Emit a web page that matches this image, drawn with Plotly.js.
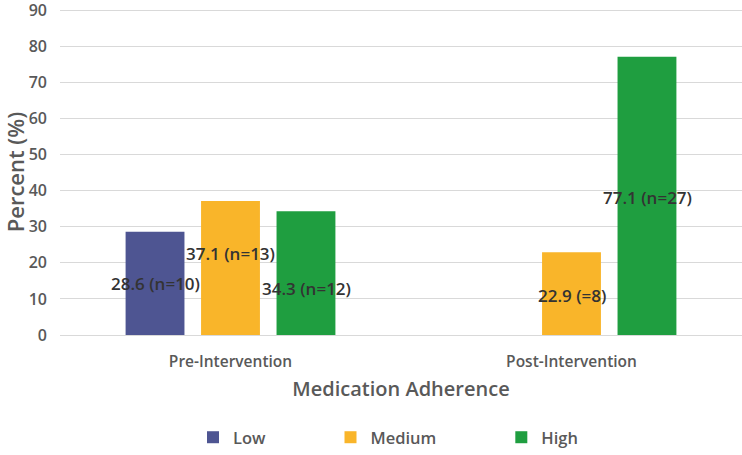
<!DOCTYPE html>
<html>
<head>
<meta charset="utf-8">
<script src="https://cdn.plot.ly/plotly-3.0.1.min.js"></script>
<style>html,body{margin:0;padding:0;background:#fff;}#chart{width:742px;height:455px;}</style>
</head>
<body>
<div id="chart"></div>
<script>
const categories = ["Pre-Intervention", "Post-Intervention"];
const seriesNames = ["Low", "Medium", "High"];
const lowValues = [28.6, null];
const mediumValues = [37.1, 22.9];
const highValues = [34.3, 77.1];
const lowLabels = ["28.6 (n=10)", ""];
const mediumLabels = ["37.1 (n=13)", "22.9 (=8)"];
const highLabels = ["34.3 (n=12)", "77.1 (n=27)"];
const yTicks = [0, 10, 20, 30, 40, 50, 60, 70, 80, 90];
const colors = ["#4E5592", "#F9B52A", "#1F9E40"];

const FONT = "Open Sans, Noto Sans, sans-serif";
const seriesVals = [lowValues, mediumValues, highValues];
const seriesLabels = [lowLabels, mediumLabels, highLabels];
const PAD = "\u00a0".repeat(14);

const traces = seriesNames.map((n, i) => ({
  type: "bar", name: n + (i < 2 ? PAD : ""), x: categories, y: seriesVals[i],
  marker: {color: colors[i]}, hoverinfo: "none"
}));

// label placement: centred on each bar, with small manual shifts as in the original
const barShift = [-75.5, 0, 75.5];
const labelYShift = [[0, 0], [15, -2], [-15, -2]];
const annotations = [];
seriesVals.forEach((vals, i) => {
  vals.forEach((v, j) => {
    if (v == null || !seriesLabels[i][j]) return;
    annotations.push({
      x: categories[j], y: v / 2, xref: "x", yref: "y",
      text: seriesLabels[i][j], showarrow: false,
      xshift: barShift[i], yshift: labelYShift[i][j],
      font: {family: FONT, size: 17, color: "#333333", weight: 600}
    });
  });
});

const layout = {
  width: 742, height: 455,
  margin: {l: 60, r: 0, t: 9, b: 120},
  paper_bgcolor: "#fff", plot_bgcolor: "#fff",
  barmode: "group", bargap: 0.336, bargroupgap: 0.22,
  font: {family: FONT, color: "#595959"},
  xaxis: {
    showgrid: false, showline: true, linecolor: "#d9d9d9", linewidth: 1,
    ticks: "", ticklabelstandoff: 12,
    tickfont: {size: 15.5, color: "#595959", weight: 600},
    title: {text: "Medication Adherence", font: {size: 20, color: "#595959", weight: 600}, standoff: 11}
  },
  yaxis: {
    range: [0, 90.3], tickvals: yTicks, showgrid: true, gridcolor: "#d9d9d9", gridwidth: 1,
    zeroline: false, showline: false, ticks: "", ticklabelstandoff: 12,
    ticklabeloverflow: "allow",
    tickfont: {size: 16, color: "#595959", weight: 600},
    title: {text: "Percent (%)", font: {size: 22, color: "#595959", weight: 600}, standoff: 6}
  },
  legend: {
    orientation: "h", xref: "paper", x: (193 - 60) / 682, xanchor: "left",
    yref: "container", y: 0, yanchor: "bottom",
    font: {size: 16.5, color: "#595959", weight: 600}, itemwidth: 30,
    tracegroupgap: 0
  },
  annotations: annotations,
  showlegend: true
};

Plotly.newPlot("chart", traces, layout, {displayModeBar: false, staticPlot: true});
</script>
</body>
</html>
